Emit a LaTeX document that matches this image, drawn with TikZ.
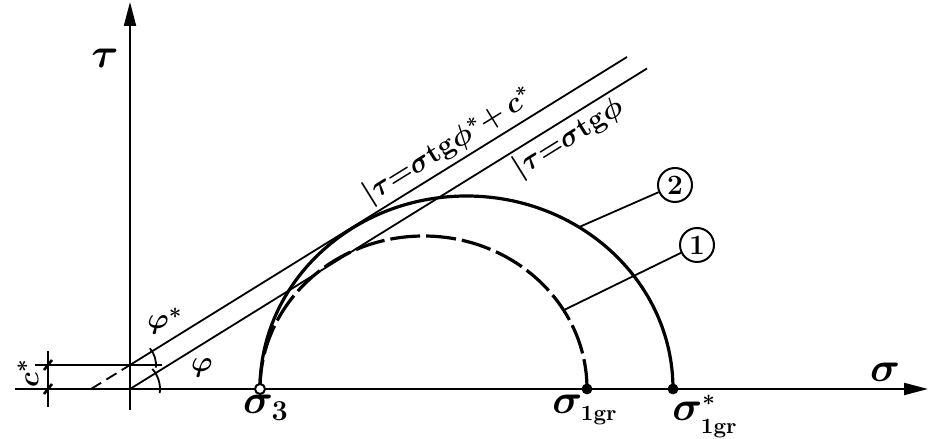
\documentclass[tikz,border=0pt]{standalone}
\usetikzlibrary{positioning,arrows.meta,calc}
\tikzset{
  axis/.style={line width=1pt,-{Triangle[length=12pt,width=6pt]}},
  envelope/.style={line width=0.9pt},
  mohr/.style={line width=1.6pt},
  mohrdash/.style={line width=1.6pt,dash pattern=on 15pt off 3pt},
  leader/.style={line width=0.9pt},
  openpt/.style={circle,draw,line width=1pt,fill=white,inner sep=0pt,minimum size=5pt},
  fullpt/.style={circle,draw,fill=black,inner sep=0pt,minimum size=5pt},
  tag/.style={circle,draw,line width=1pt,inner sep=0pt,minimum size=17pt,
    font=\fontsize{14}{14}\selectfont\bfseries},
  biglabel/.style={font=\fontsize{22}{22}\selectfont\boldmath,inner sep=1pt},
  smalllabel/.style={font=\fontsize{15}{15}\selectfont\boldmath,inner sep=1pt},
  linelabel/.style={font=\fontsize{14}{14}\selectfont\boldmath,sloped,inner sep=1.5pt}
}

\begin{document}
\begin{tikzpicture}[x=0.5pt,y=0.5pt]
  \useasboundingbox (0,0) rectangle (928,439);
  \coordinate (o) at (130,50);
  \coordinate (cs) at (130,74);
  \coordinate (sl) at (15,50);
  \coordinate (sr) at (928,50);
  \coordinate (tb) at (130,29);
  \coordinate (tt) at (130,437);
  \coordinate (s3) at (260,50);
  \coordinate (s1) at (587,50);
  \coordinate (s1s) at (673,50);
  \coordinate (m1) at (423.5,50);
  \coordinate (m2) at (466.5,50);

  \draw[axis] (sl) -- (sr);
  \draw[axis] (tb) -- (tt);

  \draw[mohr] (s1s) arc[start angle=0,end angle=180,x radius=206.5,y radius=193];
  \draw[mohrdash] (s1) arc[start angle=0,end angle=180,x radius=163.5,y radius=153];

  \coordinate (e0) at (91,50);
  \coordinate (e1) at (627,382);
  \coordinate (e2) at (647,370.5);
  \draw[envelope,dash pattern=on 6pt off 3pt] (e0) -- (cs);
  \draw[envelope] (cs) -- node[linelabel,above,pos=0.66]
    {$|\tau{=}\sigma\mathrm{tg}\phi^{*}{+}\,c^{*}$} (e1);
  \draw[envelope] (o) -- node[linelabel,below,pos=0.83]
    {$|\tau{=}\sigma\mathrm{tg}\phi$} (e2);

  % angles and c* dimension
  \draw[envelope] (o) ++(-8:30) arc[start angle=-8,end angle=42,radius=30];
  \draw[envelope] (cs) ++(-6:26) arc[start angle=-6,end angle=40,radius=26];
  \coordinate (hl) at (35,74);
  \coordinate (hr) at (162,74);
  \coordinate (dl) at (48,32);
  \coordinate (du) at (48,88);
  \draw[envelope] (hl) -- (hr);
  \draw[envelope] (dl) -- (du);
  \draw[line width=1.3pt] (44,69) -- (52,79) (44,45) -- (52,55);
  \node[smalllabel,rotate=90] (cstar) at (28,66) {$c^{*}$};
  \node[smalllabel] (phis) at (165,118) {$\varphi^{*}$};
  \node[smalllabel] (phi) at (202,71) {$\varphi$};

  \node[openpt] (p3) at (s3) {};
  \node[fullpt] (p1) at (s1) {};
  \node[fullpt] (p1s) at (s1s) {};

  \node[biglabel] (tau) at (105,381) {$\tau$};
  \node[biglabel] (sig) at (885,67) {$\sigma$};
  \node[biglabel,anchor=north] (l3) at (266,46) {$\sigma_3$};
  \node[biglabel,anchor=north] (l1) at (585,46) {$\sigma_{\scriptscriptstyle\mathbf{1gr}}$};
  \node[biglabel,anchor=north] (l1s) at (705,46) {$\sigma^{\scriptscriptstyle *}_{\scriptscriptstyle\mathbf{1gr}}$};

  \node[tag] (n2) at (675,254) {2};
  \node[tag] (n1) at (697,194) {1};
  \coordinate (q2) at ($(m2)+(57:206.5 and 193)$);
  \coordinate (q1) at ($(m1)+(31:163.5 and 153)$);
  \draw[leader] (n2) -- (q2);
  \draw[leader] (n1) -- (q1);
\end{tikzpicture}
\end{document}
